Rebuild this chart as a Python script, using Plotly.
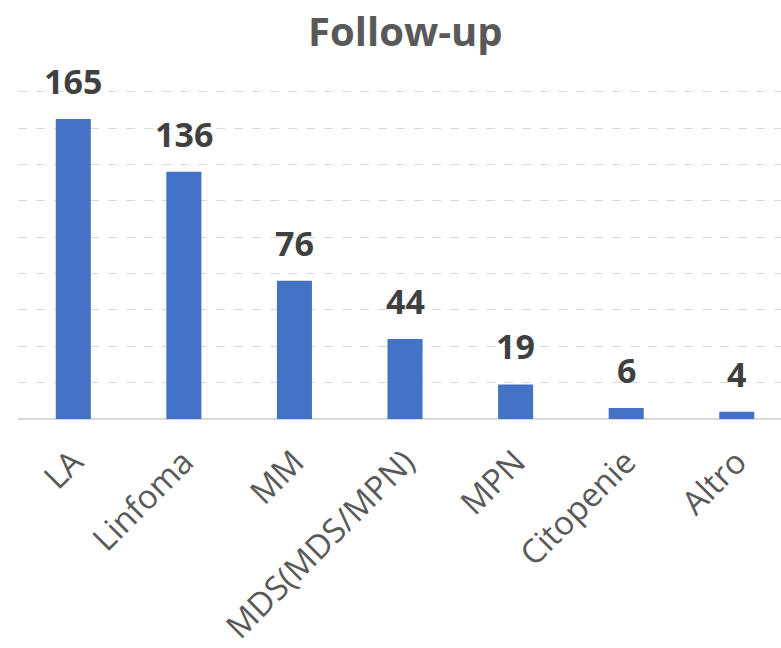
import plotly.graph_objects as go

# Follow-up counts per diagnostic group
categories = ["LA", "Linfoma", "MM", "MDS(MDS/MPN)", "MPN", "Citopenie", "Altro"]
counts = [165, 136, 76, 44, 19, 6, 4]

bar_color = "#4472C4"
grid_color = "#D9D9D9"

fig = go.Figure()
fig.add_trace(go.Bar(
    x=categories,
    y=counts,
    width=0.317,
    marker=dict(color=bar_color, line=dict(width=0)),
    hoverinfo="x+y",
))

# value labels above each bar
for cat, val in zip(categories, counts):
    fig.add_annotation(
        x=cat, y=val, text=str(val), showarrow=False,
        xref="x", yref="y", yanchor="bottom", yshift=13,
        font=dict(family="Open Sans", size=34, color="#404040", weight="bold"),
    )

fig.update_layout(
    width=781, height=648,
    margin=dict(l=18, r=0, t=88, b=229),
    paper_bgcolor="white", plot_bgcolor="white",
    showlegend=False,
    title=dict(
        text="<b>Follow-up</b>",
        x=0.519, xanchor="center", y=0.950, yanchor="middle",
        font=dict(family="Open Sans", size=40, color="#595959"),
    ),
    xaxis=dict(
        range=[-0.5, 6.4],
        tickangle=-45,
        tickfont=dict(family="Open Sans", size=33, color="#595959"),
        ticklabelstandoff=16,
        showgrid=False, showline=False, ticks="",
        automargin=False,
    ),
    yaxis=dict(
        range=[0, 182],
        dtick=20,
        showticklabels=False,
        showgrid=True, gridcolor=grid_color, griddash="dash", gridwidth=1,
        zeroline=True, zerolinecolor=grid_color, zerolinewidth=2,
        automargin=False,
    ),
)

fig.write_html("out.html")
